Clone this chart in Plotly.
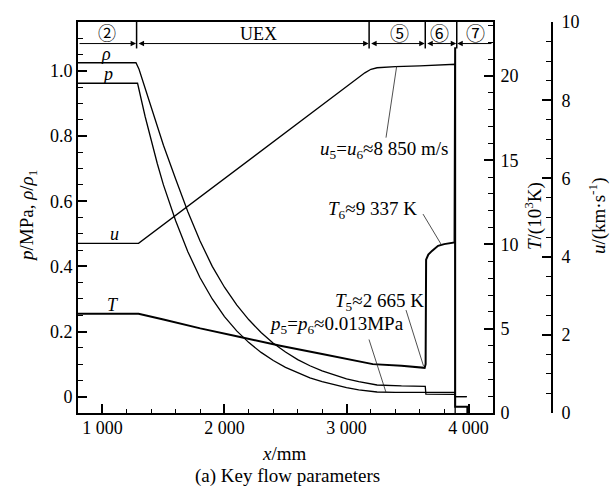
import plotly.graph_objects as go

# ---------------- data ----------------
rho_x = [800, 1275, 1300, 1350, 1400, 1450, 1500, 1600, 1700, 1800, 1900, 2000, 2100, 2200,
         2300, 2400, 2500, 2600, 2700, 2800, 2900, 3000, 3100, 3200, 3250, 3450, 3645,
         3650, 3890, 3890, 3985]
rho_y = [1.025, 1.025, 1.005, 0.945, 0.885, 0.828, 0.772, 0.668, 0.568, 0.478, 0.400, 0.336,
         0.282, 0.236, 0.197, 0.164, 0.137, 0.114, 0.095, 0.079, 0.066, 0.055, 0.046, 0.039,
         0.036, 0.033, 0.032, 0.008, 0.007, 0.0, 0.0]

p_x = [800, 1288, 1350, 1400, 1450, 1500, 1600, 1700, 1800, 1900, 2000, 2100, 2200, 2300,
       2400, 2500, 2600, 2700, 2800, 2900, 3000, 3100, 3200, 3250, 3400, 3650, 3890, 3890, 3985]
p_y = [0.962, 0.962, 0.860, 0.785, 0.715, 0.650, 0.540, 0.445, 0.365, 0.300, 0.246, 0.202,
       0.166, 0.136, 0.111, 0.090, 0.073, 0.058, 0.046, 0.036, 0.028, 0.021, 0.016, 0.0145,
       0.0135, 0.013, 0.013, 0.0, 0.0]

T_x = [800, 1296, 1500, 1802, 2100, 2457, 2800, 3215, 3450, 3620, 3640, 3648, 3652, 3670,
       3700, 3750, 3800, 3885, 3890, 3890, 3990, 3990]
T_y = [5.89, 5.89, 5.55, 5.02, 4.55, 3.99, 3.50, 2.90, 2.80, 2.69, 2.68, 2.90, 9.10, 9.40,
       9.62, 9.92, 10.02, 10.12, 21.7, 0.37, 0.37, 0.0]

u_x = [800, 1296, 3150, 3200, 3250, 3400, 3600, 3890, 3890]
u_y = [4.34, 4.34, 8.70, 8.79, 8.83, 8.86, 8.88, 8.92, 0.0]

x_ticks = [1000, 2000, 3000, 4000]
x_ticktext = ["1 000", "2 000", "3 000", "4 000"]
y_ticks = [0, 0.2, 0.4, 0.6, 0.8, 1.0]
y_ticktext = ["0", "0.2", "0.4", "0.6", "0.8", "1.0"]
T_ticks = [0, 5, 10, 15, 20]
u_ticks = [0, 2, 4, 6, 8, 10]

zone_bounds = [1280, 3185, 3645, 3903]

# ---------------- layout helpers ----------------
W, H = 611, 492
ML, MR, MT, MB = 78, 59, 14, 79
PW = W - ML - MR
PH = H - MT - MB
XDOM = (493 - 78) / PW
Y0, Y1 = -0.05, 1.15


def fx(px):
    return (px - ML) / PW


def fy(py):
    return (MT + PH - py) / PH


def yv(py):
    return Y1 - (py - MT) * (Y1 - Y0) / PH


SERIF = "Liberation Serif"
CJK = "Noto Sans CJK SC"

fig = go.Figure()
fig.add_trace(go.Scatter(x=rho_x, y=rho_y, mode="lines", line=dict(color="black", width=1.3),
                         yaxis="y", showlegend=False, hoverinfo="skip"))
fig.add_trace(go.Scatter(x=p_x, y=p_y, mode="lines", line=dict(color="black", width=1.3),
                         yaxis="y", showlegend=False, hoverinfo="skip"))
fig.add_trace(go.Scatter(x=T_x, y=T_y, mode="lines", line=dict(color="black", width=2.0),
                         yaxis="y2", showlegend=False, hoverinfo="skip"))
fig.add_trace(go.Scatter(x=u_x, y=u_y, mode="lines", line=dict(color="black", width=1.3),
                         yaxis="y3", showlegend=False, hoverinfo="skip"))

tickfont = dict(family=SERIF, size=18, color="black")
common = dict(showgrid=False, zeroline=False, showline=True, linecolor="black", linewidth=2,
              ticks="inside", ticklen=9, tickwidth=2, tickcolor="black", tickfont=tickfont)

fig.update_layout(
    width=W, height=H,
    margin=dict(l=ML, r=MR, t=MT, b=MB),
    paper_bgcolor="white", plot_bgcolor="white",
    xaxis=dict(domain=[0, XDOM], range=[800, 4200], tickvals=x_ticks, ticktext=x_ticktext,
               mirror=True, ticklabelstandoff=-3,
               minor=dict(ticks="inside", dtick=200, tick0=800, ticklen=4, tickwidth=1,
                          tickcolor="black"),
               **common),
    yaxis=dict(range=[Y0, Y1], tickvals=y_ticks, ticktext=y_ticktext,
               minor=dict(ticks="inside", dtick=0.05, tick0=0, ticklen=5, tickwidth=1,
                          tickcolor="black"),
               **common),
    yaxis2=dict(range=[0, 23.2], tickvals=T_ticks, overlaying="y", side="right", anchor="x",
                ticklabelstandoff=2,
                minor=dict(ticks="inside", dtick=1, tick0=0, ticklen=5, tickwidth=1,
                           tickcolor="black"),
                **common),
    yaxis3=dict(range=[0, 10], tickvals=u_ticks, overlaying="y", side="right", anchor="free",
                position=1.0, ticklabelstandoff=5,
                minor=dict(ticks="inside", dtick=0.5, tick0=0, ticklen=5, tickwidth=1,
                           tickcolor="black"),
                **common),
)

shapes = []
# zone separators in header band
for xb in zone_bounds:
    shapes.append(dict(type="line", xref="x", yref="paper", x0=xb, x1=xb, y0=fy(14), y1=fy(41),
                       line=dict(color="black", width=1.5)))
# leader lines
leaders = [((396.7, 59), (386, 132)),
           ((423, 210), (441.5, 241.5)),
           ((406, 308), (423.5, 365)),
           ((369, 338), (386, 392))]
for (a, b) in leaders:
    shapes.append(dict(type="line", xref="paper", yref="paper", x0=fx(a[0]), y0=fy(a[1]),
                       x1=fx(b[0]), y1=fy(b[1]), line=dict(color="#222", width=0.8)))
fig.update_layout(shapes=shapes)

ann = []


def txt(px, py, text, size=18, family=SERIF, xanchor="center", angle=0):
    ann.append(dict(x=fx(px), y=fy(py), xref="paper", yref="paper", text=text, showarrow=False,
                    xanchor=xanchor, yanchor="middle", textangle=angle,
                    font=dict(family=family, size=size, color="black")))


# header labels
txt(107, 24, "②", size=18, family=CJK)
txt(258, 26, "UEX", size=18)
txt(399, 25, "⑤", size=19, family=CJK)
txt(439.5, 25, "⑥", size=19, family=CJK)
txt(475, 25, "⑦", size=19, family=CJK)

# header arrows
ya = yv(36)
arrows = [(800, 1276, "end"), (1284, 3181, "start+end"), (3189, 3641, "start+end"),
          (3649, 3899, "start+end"), (4200, 3907, "end")]
for (x0, x1, side) in arrows:
    ann.append(dict(x=x1, y=ya, ax=x0, ay=ya, xref="x", yref="y", axref="x", ayref="y",
                    text="", showarrow=True, arrowhead=2, arrowsize=1.1, arrowwidth=1,
                    arrowside=side, arrowcolor="black", standoff=0, startstandoff=0))

# curve labels
txt(106, 47, "<i>ρ</i>", size=18)
txt(107, 67, "<i>p</i>", size=18)
txt(114, 230, "<i>u</i>", size=18)
txt(113, 303, "<i>T</i>", size=18)
txt(450, 145, "<i>u</i><sub>5</sub>=<i>u</i><sub>6</sub>≈8 850 m/s", size=19, xanchor="right")
txt(419, 206, "<i>T</i><sub>6</sub>≈9 337 K", size=19, xanchor="right")
txt(426, 300, "<i>T</i><sub>5</sub>≈2 665 K", size=19, xanchor="right")
txt(406, 323, "<i>p</i><sub>5</sub>=<i>p</i><sub>6</sub>≈0.013MPa", size=19, xanchor="right")

# axis titles
txt(284, 454, "<i>x</i>/mm", size=19)
txt(287, 477, "(a) Key flow parameters", size=19)
txt(28, 212, "<i>p</i>/MPa, <i>ρ</i>/<i>ρ</i><sub>1</sub>", size=19, angle=-90)
txt(533, 212, "<i>T</i>/(10<sup>3</sup>K)", size=19, angle=-90)
txt(597, 212, "<i>u</i>/(km·s<sup>-1</sup>)", size=19, angle=-90)

fig.update_layout(annotations=ann)

fig.write_html("out.html")
